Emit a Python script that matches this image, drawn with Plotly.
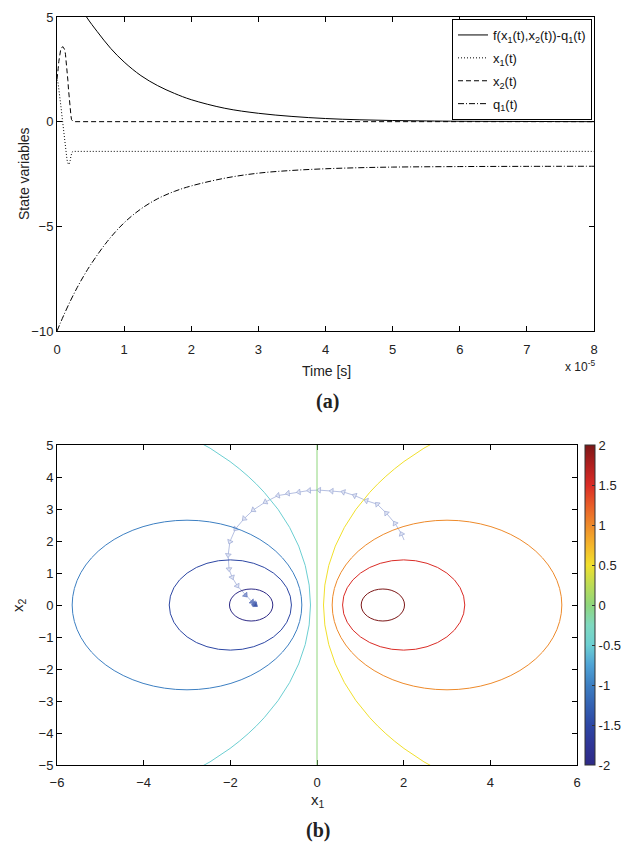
import plotly.graph_objects as go
from plotly.colors import sample_colorscale

# ---------------- data: panel (a) ----------------
# transient part (shared with the phase-plane trajectory)
t_tr = [0.000, 0.009, 0.018, 0.027, 0.036, 0.045, 0.054, 0.063, 0.072, 0.081,
        0.090, 0.099, 0.108, 0.117, 0.126, 0.135, 0.144, 0.153, 0.162, 0.171,
        0.180, 0.189, 0.198, 0.207, 0.216, 0.225, 0.234, 0.243, 8.0]
x1_tr = [2.01, 1.95, 1.80, 1.60, 1.39, 1.14, 0.87, 0.61, 0.34, 0.05,
         -0.18, -0.42, -0.67, -0.90, -1.19, -1.47, -1.68, -1.88, -2.01, -2.05,
         -2.03, -1.96, -1.84, -1.65, -1.50, -1.45, -1.43, -1.42, -1.42]
x2_tr = [2.03, 2.22, 2.55, 2.87, 3.15, 3.26, 3.42, 3.53, 3.56, 3.59,
         3.58, 3.53, 3.49, 3.42, 3.22, 2.97, 2.70, 2.38, 1.98, 1.56,
         1.12, 0.87, 0.60, 0.31, 0.10, 0.04, 0.01, 0.00, 0.00]

t_f = [0, 0.2, 0.44, 0.6, 0.8, 1.0, 1.25, 1.5, 1.75, 2.0, 2.5, 3.0, 3.5, 4.0,
       4.5, 5.0, 5.5, 6.0, 7.0, 8.0]
f_minus_q = [7.9, 6.3, 5.0, 4.3, 3.5, 2.85, 2.2, 1.72, 1.35, 1.05, 0.64, 0.40,
             0.25, 0.15, 0.09, 0.055, 0.035, 0.02, 0.01, 0.0]

t_q = [0, 0.05, 0.1, 0.2, 0.3, 0.4, 0.5, 0.75, 1.0, 1.25, 1.5, 1.75, 2.0, 2.5,
       3.0, 3.5, 4.0, 4.5, 5.0, 6.0, 7.0, 8.0]
q1 = [-10.0, -9.62, -9.25, -8.56, -7.93, -7.36, -6.84, -5.72, -4.83, -4.17, -3.68,
      -3.33, -3.07, -2.70, -2.46, -2.33, -2.25, -2.20, -2.17, -2.145, -2.135, -2.13]

# ---------------- data: panel (b) ----------------
# contour level curves (circles in the (x1, x2) plane): level, centre, radius
levels = [-2.0, -1.5, -1.0, -0.5, 0.5, 1.0, 1.5, 2.0]
centres = [-1.52, -2.0, -3.0, -6.49, 6.49, 3.0, 2.0, 1.52]
radii = [0.50, 1.41, 2.65, 6.34, 6.34, 2.65, 1.41, 0.50]
zero_level_x = 0.0

cb_ticks = [-2, -1.5, -1, -0.5, 0, 0.5, 1, 1.5, 2]
cb_text = ["-2", "-1.5", "-1", "-0.5", "0", "0.5", "1", "1.5", "2"]

colorscale = [
    [0.0, "#2e2a86"], [0.0625, "#2f3596"], [0.125, "#2d47a4"], [0.1875, "#3462b3"],
    [0.25, "#3d7fc2"], [0.3125, "#4fa3d6"], [0.375, "#6ccfd2"], [0.4375, "#7fd9c0"],
    [0.5, "#8fd67c"], [0.5625, "#bcdc55"], [0.625, "#f1e02c"], [0.6875, "#f4b52a"],
    [0.75, "#ee8a2a"], [0.8125, "#e85c28"], [0.875, "#da2c26"], [0.9375, "#b01f1f"],
    [1.0, "#7c1717"],
]
cmin, cmax = -2.0, 2.0

FONT = "Liberation Sans, Arial, sans-serif"
SERIF = "Liberation Serif, Times New Roman, serif"
fig = go.Figure()

# ---- panel (a) traces ----
fig.add_trace(go.Scatter(x=t_f, y=f_minus_q, mode="lines",
                         line=dict(color="black", width=1, shape="spline"),
                         name="f(x<sub>1</sub>(t),x<sub>2</sub>(t))-q<sub>1</sub>(t)",
                         legendgroup="a", xaxis="x", yaxis="y"))
fig.add_trace(go.Scatter(x=t_tr, y=x1_tr, mode="lines",
                         line=dict(color="black", width=1, dash="1px,2px"),
                         name="x<sub>1</sub>(t)", legendgroup="b", xaxis="x", yaxis="y"))
fig.add_trace(go.Scatter(x=t_tr, y=x2_tr, mode="lines",
                         line=dict(color="black", width=1, dash="5px,3px"),
                         name="x<sub>2</sub>(t)", legendgroup="c", xaxis="x", yaxis="y"))
fig.add_trace(go.Scatter(x=t_q, y=q1, mode="lines",
                         line=dict(color="black", width=1, dash="6px,2px,1px,2px", shape="spline"),
                         name="q<sub>1</sub>(t)", legendgroup="d", xaxis="x", yaxis="y"))

# ---- panel (b) ----
line_cols = sample_colorscale(colorscale, [(v - cmin) / (cmax - cmin) for v in levels])
shapes = []
for c, r, col in zip(centres, radii, line_cols):
    shapes.append(dict(type="circle", xref="x2", yref="y2",
                       x0=c - r, x1=c + r, y0=-r, y1=r,
                       line=dict(color=col, width=1)))
zero_col = sample_colorscale(colorscale, [(0 - cmin) / (cmax - cmin)])[0]
shapes.append(dict(type="line", xref="x2", yref="y2", x0=zero_level_x, x1=zero_level_x,
                   y0=-5, y1=5, line=dict(color=zero_col, width=1)))

# trajectory in the phase plane (end of the path drawn darker, as in the original)
n_traj = len(x1_tr) - 1
mk_fill = ["#dfe4f4"] * (n_traj - 5) + ["#8e9fd2", "#6f84c4", "#5a70b8", "#4a62b0", "#3f57a8"]
mk_line = ["#9ba8d4"] * (n_traj - 5) + ["#5f74bb"] * 5
fig.add_trace(go.Scatter(x=x1_tr[:-1], y=x2_tr[:-1], mode="lines+markers",
                         line=dict(color="#b6c0e2", width=1),
                         marker=dict(symbol="triangle-up", size=5, color=mk_fill,
                                     angleref="previous",
                                     line=dict(color=mk_line, width=0.7)),
                         showlegend=False, xaxis="x2", yaxis="y2"))

# colour bar carrier (level values)
fig.add_trace(go.Scatter(x=centres, y=[0] * len(levels), mode="markers",
                         marker=dict(color=levels, colorscale=colorscale, cmin=cmin, cmax=cmax,
                                     opacity=0, size=1, showscale=True,
                                     colorbar=dict(x=(585 - 57) / 537, xanchor="left",
                                                   y=0, yanchor="bottom",
                                                   len=320 / 748, lenmode="fraction",
                                                   thickness=10, xpad=0, ypad=0,
                                                   outlinewidth=1, outlinecolor="#333",
                                                   tickvals=cb_ticks, ticktext=cb_text,
                                                   ticks="inside", ticklen=3, tickcolor="#333",
                                                   tickfont=dict(family=FONT, size=13, color="#222"))),
                         hoverinfo="skip", showlegend=False, xaxis="x2", yaxis="y2"))

axis_common = dict(showline=True, linecolor="black", linewidth=1, mirror="ticks",
                   ticks="inside", ticklen=5, tickcolor="black", showgrid=False,
                   zeroline=False, automargin=False,
                   tickfont=dict(family=FONT, size=13, color="#222"))

H = 748.0


def py(p):
    return (765 - p) / H


def px(p):
    return (p - 57) / 537.0


def note(text, x, y, size=14, family=FONT, angle=0, xanchor="center"):
    return dict(text=text, x=px(x), y=py(y), xref="paper", yref="paper",
                xanchor=xanchor, yanchor="middle", textangle=angle, showarrow=False,
                font=dict(family=family, size=size, color="#222"))


# page has an 8px body margin, so the figure is 632x844 and offset by 8px
fig.update_layout(
    width=632, height=844,
    margin=dict(l=49, r=46, t=9, b=87, autoexpand=False),
    paper_bgcolor="white", plot_bgcolor="white",
    font=dict(family=FONT, size=13, color="#222"),
    xaxis=dict(domain=[0, 1], range=[0, 8], tickvals=list(range(0, 9)),
               anchor="y", ticklabelstandoff=6, **axis_common),
    yaxis=dict(domain=[py(331), 1.0], range=[-10, 5], tickvals=[-10, -5, 0, 5],
               anchor="x", **axis_common),
    xaxis2=dict(domain=[0, px(577)], range=[-6, 6], tickvals=[-6, -4, -2, 0, 2, 4, 6],
                anchor="y2", ticklabelstandoff=5, **axis_common),
    yaxis2=dict(domain=[0, py(445)], range=[-5, 5], tickvals=list(range(-5, 6)),
                anchor="x2", **axis_common),
    legend=dict(x=px(592), y=py(19), xanchor="right", yanchor="top",
                bgcolor="white", bordercolor="black", borderwidth=1,
                font=dict(family=FONT, size=13, color="#111"),
                itemwidth=30, tracegroupgap=3),
    shapes=shapes,
    annotations=[
        note("Time [s]", 326, 371, 14),
        note("x 10<sup>-5</sup>", 597, 366, 12, xanchor="right"),
        note("State variables", 24, 174, 14, angle=-90),
        note("<b>(a)</b>", 327, 401, 20, family=SERIF),
        note("x<sub>1</sub>", 318, 800, 15),
        note("x<sub>2</sub>", 18, 605, 15, angle=-90),
        note("<b>(b)</b>", 318, 830, 20, family=SERIF),
    ],
)

fig.write_html("out.html")
